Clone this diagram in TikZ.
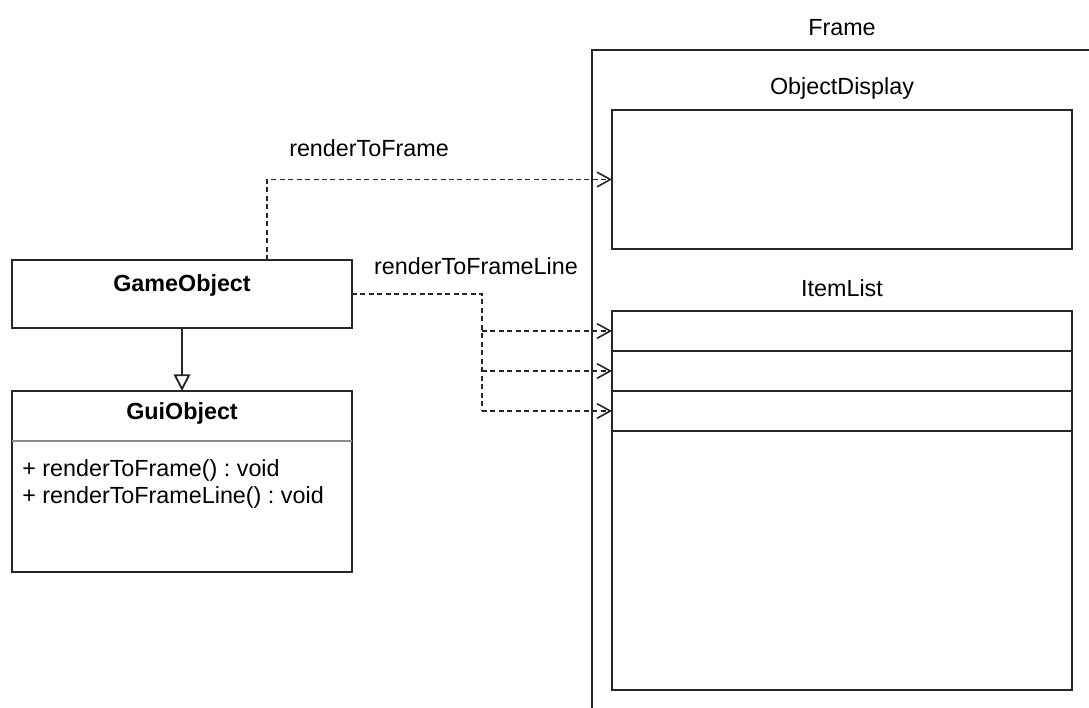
\documentclass[tikz,border=0pt]{standalone}
\usepackage{fontspec}
\setmainfont{Liberation Sans}
\usetikzlibrary{arrows.meta,calc}

\tikzset{
  umlbox/.style={draw=black!85, line width=1.5pt, inner sep=0pt, outer sep=0pt},
  txt/.style={inner sep=0.75pt},
  calls/.style={draw=black!85, line width=1.2pt, dash pattern=on 3.75pt off 2.6pt},
  callhead/.style={-{Straight Barb[length=10pt,width=11pt,line width=1.2pt]}},
  inherits/.style={draw=black!85, line width=1.4pt, -{Triangle[open,length=12.5pt,width=12.5pt,fill=white]}}
}

\begin{document}
\frenchspacing
\begin{tikzpicture}[x=0.75pt,y=0.75pt,yscale=-1,xscale=1,font=\fontsize{17.5}{20.25}\selectfont]
\useasboundingbox (0,0) rectangle (1089,707);
\clip (0,0) rectangle (1089,707);

%Frame and its panels
\node (frame) [umlbox, minimum width=388.5pt, minimum height=510pt] at (851,390) {};
\node (display) [umlbox, minimum width=345pt, minimum height=104.25pt] at (842,179.5) {};
\node (row1) [umlbox, minimum width=345pt, minimum height=30pt] at (842,331) {};
\node (row2) [umlbox, minimum width=345pt, minimum height=30pt] at (842,371) {};
\node (row3) [umlbox, minimum width=345pt, minimum height=30pt] at (842,411) {};
\node (rest) [umlbox, minimum width=345pt, minimum height=194.25pt] at (842,560.5) {};

%Classes
\node (game) [umlbox, minimum width=255pt, minimum height=51pt] at (182,294) {};
\node (gui) [umlbox, minimum width=255pt, minimum height=135.75pt] at (182,481.5) {};
\draw [draw=black!45, line width=0.8pt] ($(gui.north west)+(0,50)$) -- ($(gui.north east)+(0,50)$) ;

% Text Node
\node (frametitle) [txt] at (842,28) {Frame};
% Text Node
\node (displaytitle) [txt] at (842,88) {ObjectDisplay};
% Text Node
\node (listtitle) [txt] at (842,288) {ItemList};
% Text Node
\node (gametitle) [txt] at (182,285) {\textbf{GameObject}};
% Text Node
\node (guititle) [txt] at (182,413) {\textbf{GuiObject}};
% Text Node
\node (opframe) [txt, anchor=west] at (21,470) {+ renderToFrame() : void};
% Text Node
\node (opline) [txt, anchor=west] at (21,497) {+ renderToFrameLine() : void};
% Text Node
\node (callframe) [txt] at (369,148) {renderToFrame};
% Text Node
\node (callline) [txt] at (476,266) {renderToFrameLine};

%Generalisation
\draw [inherits] (game.south) -- (gui.north) ;

%renderToFrame call
\draw [calls, callhead] ($(game.north west)!0.75!(game.north east)$) |- (display.west) ;

%renderToFrameLine calls
\coordinate (fork) at (482,294);
\draw [calls] (game.east) -- (fork) -- (fork |- row3.west) ;
\draw [calls, callhead] (fork |- row1.west) -- (row1.west) ;
\draw [calls, callhead] (fork |- row2.west) -- (row2.west) ;
\draw [calls, callhead] (fork |- row3.west) -- (row3.west) ;

\end{tikzpicture}
\end{document}
